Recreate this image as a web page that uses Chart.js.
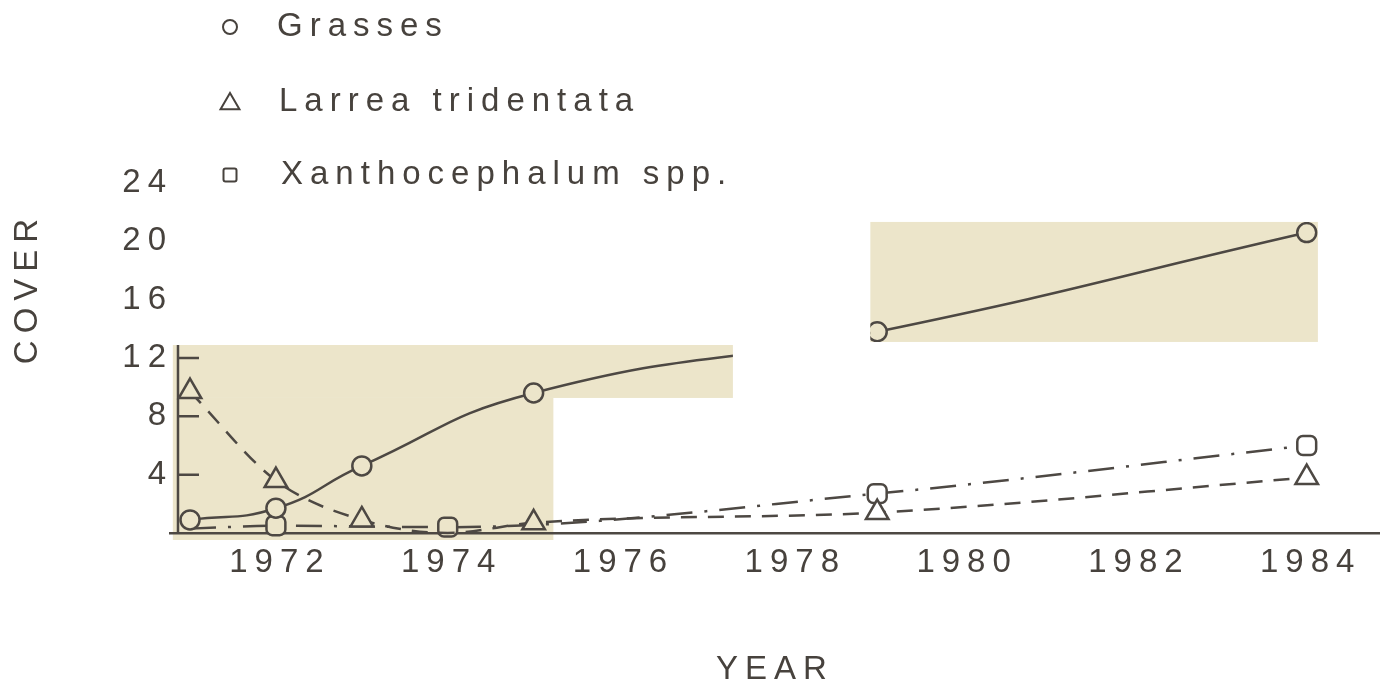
<!DOCTYPE html>
<html>
<head>
<meta charset="utf-8">
<script src="https://cdn.jsdelivr.net/npm/chart.js@4.4.0/dist/chart.umd.min.js"></script>
<style>
  html, body { margin: 0; background: #fff; overflow: hidden; }
  #wrap { position: relative; width: 1380px; height: 690px; }
</style>
</head>
<body>
<div id="wrap"><canvas id="chart"></canvas></div>
<script>
// values
const grassYears = [1971, 1972, 1973, 1975, 1979, 1984]
const grassCover = [0.9, 1.7, 4.6, 9.6, 13.8, 20.6]

const larreaYears = [1971, 1972, 1973, 1974, 1975, 1979, 1984]
const larreaCover = [9.7, 3.6, 0.9, 0.0, 0.7, 1.4, 3.8]

const xanthoYears = [1971, 1972, 1974, 1979, 1984]
const xanthoCover = [0.3, 0.5, 0.4, 2.7, 6.0]

const yearTicks = [1972, 1974, 1976, 1978, 1980, 1982, 1984]
const coverTicks = [4, 8, 12, 16, 20, 24]
const stubTicks = [4, 8, 12]

const seriesNames = ['Grasses', 'Larrea tridentata', 'Xanthocephalum spp.']

const ink = '#4d4843'
const text = '#47423d'
const beige = '#ece5ca'
const font = '"Liberation Sans", Arial, sans-serif'

// yellowed paper patches of the scan, in data units
const patches = [
    { x0: 1970.80, x1: 1975.23, y0: -0.48, y1: 9.26 },
    { x0: 1970.80, x1: 1977.32, y0: 9.26, y1: 12.89 },
    { x0: 1978.92, x1: 1984.13, y0: 13.10, y1: 21.33 },
]

const toPoints = (xs, ys) => xs.map((x, i) => ({ x, y: ys[i] }))

const inPatch = (p) => patches.some(r => p.x >= r.x0 && p.x <= r.x1 && p.y >= r.y0 && p.y <= r.y1)
const fillFor = (c) => (c.raw && inPatch(c.raw) ? beige : '#fff')

function patchRect(chart, r) {
    const { x, y } = chart.scales
    const l = x.getPixelForValue(r.x0)
    const rt = x.getPixelForValue(r.x1)
    const t = y.getPixelForValue(r.y1)
    const b = y.getPixelForValue(r.y0)
    return [l, t, rt - l, b - t]
}

function marker(ctx, style, cx, cy, s) {
    ctx.beginPath()
    if (style === 'circle') {
        ctx.arc(cx, cy, s, 0, Math.PI * 2)
    } else if (style === 'triangle') {
        ctx.moveTo(cx, cy - s)
        ctx.lineTo(cx + s * 1.05, cy + s * 0.8)
        ctx.lineTo(cx - s * 1.05, cy + s * 0.8)
        ctx.closePath()
    } else {
        ctx.roundRect(cx - s, cy - s, s * 2, s * 2, 2)
    }
    ctx.stroke()
}

const paper = {
    id: 'paper',
    beforeUpdate(chart) {
        chart.ctx.letterSpacing = '7px'
    },
    afterLayout(chart) {
        // let the x axis run to the right edge of the page, like the scan
        const x = chart.scales.x
        const area = chart.chartArea
        area.right = chart.width
        area.width = area.right - area.left
        x.right = chart.width
        x.width = x.right - x.left
        x.configure()
    },
    beforeDraw(chart) {
        const ctx = chart.ctx
        ctx.letterSpacing = '7px'
        ctx.save()
        ctx.fillStyle = beige
        patches.forEach(r => ctx.fillRect(...patchRect(chart, r)))
        ctx.restore()
    },
    beforeDatasetsDraw(chart) {
        // short y axis with inward ticks, as in the scan
        const { ctx, scales: { x, y } } = chart
        const ax = x.getPixelForValue(1970.86)
        ctx.save()
        ctx.strokeStyle = ink
        ctx.lineWidth = 2.5
        ctx.beginPath()
        ctx.moveTo(ax, y.getPixelForValue(0))
        ctx.lineTo(ax, y.getPixelForValue(12.89))
        stubTicks.forEach(v => {
            const py = y.getPixelForValue(v)
            ctx.moveTo(ax, py)
            ctx.lineTo(ax + 21, py)
        })
        ctx.stroke()
        ctx.restore()
    },
    beforeDatasetDraw(chart, args) {
        if (args.index !== 0) return
        // the grasses curve only survives on the paper patches
        const ctx = chart.ctx
        ctx.save()
        ctx.beginPath()
        patches.forEach(r => ctx.rect(...patchRect(chart, r)))
        ctx.clip()
    },
    afterDatasetDraw(chart, args) {
        if (args.index === 0) chart.ctx.restore()
    },
    afterDraw(chart) {
        const ctx = chart.ctx
        ctx.save()
        ctx.fillStyle = text
        ctx.font = '33px ' + font
        ctx.letterSpacing = '7px'
        ctx.textBaseline = 'middle'

        // y title
        ctx.save()
        ctx.translate(28, 291)
        ctx.rotate(-Math.PI / 2)
        ctx.textAlign = 'center'
        ctx.fillText('COVER', 3, 0)
        ctx.restore()

        // legend
        const rows = [27, 102, 175]
        const styles = ['circle', 'triangle', 'rect']
        const sizes = [7, 9, 6.5]
        ctx.strokeStyle = text
        ctx.lineWidth = 2
        seriesNames.forEach((name, i) => {
            marker(ctx, styles[i], 230, rows[i], sizes[i])
            ctx.textAlign = 'left'
            ctx.fillText(name, 277 + i * 2, rows[i])
        })
        ctx.restore()
    },
}

new Chart(document.getElementById('chart'), {
    type: 'line',
    data: {
        datasets: [
            {
                label: seriesNames[0],
                data: toPoints(grassYears, grassCover),
                borderColor: ink,
                borderWidth: 2.5,
                tension: 0.5,
                pointStyle: 'circle',
                pointRadius: 9.5,
                pointBorderWidth: 2.5,
                pointBorderColor: ink,
                pointBackgroundColor: fillFor,
                clip: false,
            },
            {
                label: seriesNames[1],
                data: toPoints(larreaYears, larreaCover),
                borderColor: ink,
                borderWidth: 2.5,
                borderDash: [16, 11],
                cubicInterpolationMode: 'monotone',
                pointStyle: 'triangle',
                pointRadius: [13, 13, 13, 0, 13, 13, 13],
                pointBorderWidth: 2.5,
                pointBorderColor: ink,
                pointBackgroundColor: fillFor,
                clip: false,
            },
            {
                label: seriesNames[2],
                data: toPoints(xanthoYears, xanthoCover),
                borderColor: ink,
                borderWidth: 2.5,
                borderDash: [26, 12, 3, 12],
                cubicInterpolationMode: 'monotone',
                pointStyle: 'rectRounded',
                pointRadius: [0, 11, 11, 11, 11],
                pointBorderWidth: 2.5,
                pointBorderColor: ink,
                pointBackgroundColor: fillFor,
                clip: false,
            },
        ],
    },
    options: {
        responsive: true,
        maintainAspectRatio: false,
        animation: false,
        layout: { padding: { top: 183, right: 0, left: 0, bottom: 0 } },
        plugins: {
            legend: { display: false },
            tooltip: { enabled: false },
        },
        scales: {
            x: {
                type: 'linear',
                min: 1970.767,
                max: 1984.853,
                afterBuildTicks: (s) => { s.ticks = yearTicks.map(v => ({ value: v })) },
                afterFit: (s) => {
                    s.height = 157
                    s.paddingLeft = 0
                    s.paddingRight = 0
                },
                grid: { display: false, drawTicks: false },
                border: { display: true, color: ink, width: 2.5 },
                ticks: {
                    color: text,
                    font: { family: font, size: 33 },
                    padding: 10,
                    labelOffset: 4,
                    maxRotation: 0,
                    autoSkip: false,
                    callback: (v) => String(v),
                },
                title: {
                    display: true,
                    text: 'YEAR',
                    color: text,
                    font: { family: font, size: 33, lineHeight: 1.2 },
                    padding: { top: 0, bottom: 0 },
                },
            },
            y: {
                min: 0,
                max: 24,
                afterBuildTicks: (s) => { s.ticks = coverTicks.map(v => ({ value: v })) },
                afterFit: (s) => {
                    s.width = 170
                    s.paddingTop = 0
                    s.paddingBottom = 0
                },
                grid: { display: false, drawTicks: false },
                border: { display: false },
                ticks: {
                    color: text,
                    font: { family: font, size: 33 },
                    padding: -3,
                    autoSkip: false,
                },
            },
        },
    },
    plugins: [paper],
})
</script>
</body>
</html>
